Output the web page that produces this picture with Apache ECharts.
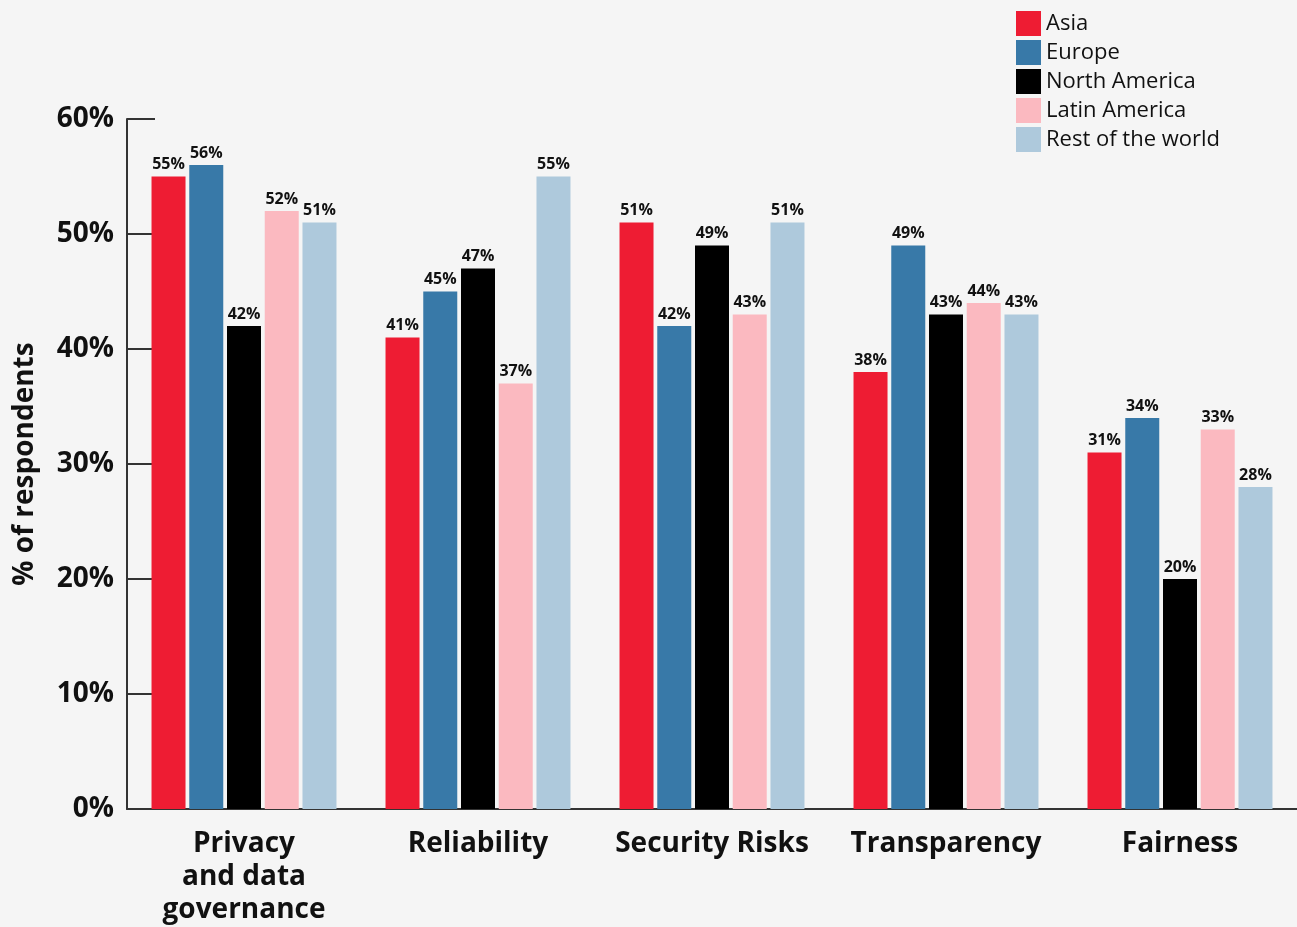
<!DOCTYPE html>
<html><head><meta charset="utf-8">
<script src="https://cdn.jsdelivr.net/npm/echarts@6/dist/echarts.min.js"></script>
<style>html,body{margin:0;padding:0;background:#f5f5f5;}#c{width:1297px;height:927px;}</style>
</head><body><div id="c"></div>
<script>
const categories = ['Privacy\nand data\ngovernance', 'Reliability', 'Security Risks', 'Transparency', 'Fairness'];
const seriesNames = ['Asia', 'Europe', 'North America', 'Latin America', 'Rest of the world'];
const asia = [55, 41, 51, 38, 31];
const europe = [56, 45, 42, 49, 34];
const northAmerica = [42, 47, 49, 43, 20];
const latinAmerica = [52, 37, 43, 44, 33];
const restOfWorld = [51, 55, 51, 43, 28];
const yTicks = [0, 10, 20, 30, 40, 50, 60];
const colors = ['#ee1c33', '#3879a8', '#000000', '#fbb9c0', '#aec9dc'];
const values = [asia, europe, northAmerica, latinAmerica, restOfWorld];

const font = 'Open Sans';
const chart = echarts.init(document.getElementById('c'));
chart.setOption({
  backgroundColor: '#f5f5f5',
  animation: false,
  color: colors,
  legend: {
    orient: 'vertical', left: 1011, top: 6,
    itemWidth: 25, itemHeight: 25, itemGap: 4,
    icon: 'rect',
    textStyle: { fontFamily: font, fontSize: 22, color: '#111', padding: [6, 0, 0, 0] },
    data: seriesNames
  },
  grid: { left: 127, right: 0, top: 119, bottom: 116, containLabel: false },
  xAxis: {
    type: 'category', data: categories,
    axisLine: { lineStyle: { color: '#333', width: 2 } },
    axisTick: { show: false },
    axisLabel: { fontFamily: font, fontWeight: 'bold', fontSize: 28, color: '#111', margin: 19, lineHeight: 33, interval: 0 }
  },
  yAxis: {
    type: 'value', min: 0, max: 60, interval: 10,
    name: '% of respondents', nameLocation: 'middle', nameGap: 88,
    nameTextStyle: { fontFamily: font, fontWeight: 'bold', fontSize: 28, color: '#111' },
    axisLine: { show: true, lineStyle: { color: '#333', width: 2 } },
    axisTick: { show: true, inside: true, length: 28, lineStyle: { color: '#333', width: 2 } },
    splitLine: { show: false },
    axisLabel: { fontFamily: font, fontWeight: 'bold', fontSize: 28, color: '#111', margin: 13,
      formatter: v => yTicks.includes(v) ? v + '%' : '' }
  },
  series: seriesNames.map((n, i) => ({
    name: n, type: 'bar', data: values[i],
    barWidth: 34, barGap: '11%',
    itemStyle: { color: colors[i] },
    label: { show: true, position: 'top', distance: 4, formatter: '{c}%',
      fontFamily: font, fontWeight: 'bold', fontSize: 16, color: '#111' }
  }))
});
</script></body></html>
